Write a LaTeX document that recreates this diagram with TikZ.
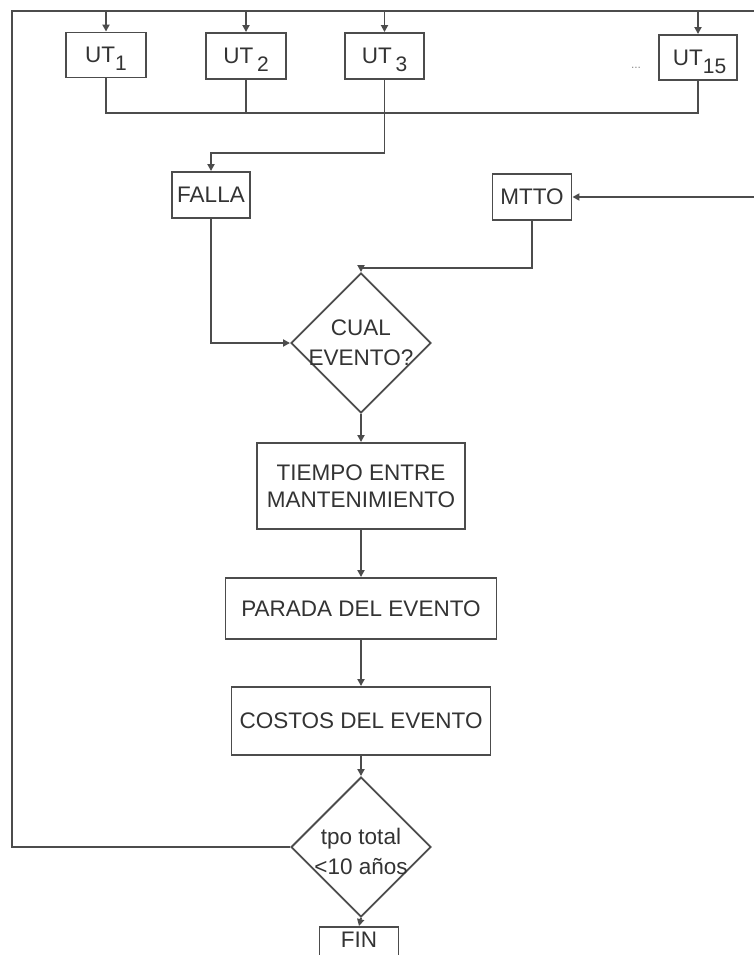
\documentclass[tikz,border=0pt]{standalone}
\usepackage{fontspec}
\setmainfont{Liberation Sans}
\usetikzlibrary{shapes.geometric, arrows.meta}
\newcommand\lowsub[1]{\smash{\raisebox{-8pt}{\fontsize{21}{21}\selectfont #1}}}
\begin{document}
\begin{tikzpicture}[x=1pt,y=-1pt,
  every node/.style={font=\fontsize{22.5}{27}\selectfont, text=black!80},
  line/.style={draw=black!70, line width=1.9pt},
  arr/.style={line, -{Triangle[length=7pt,width=7pt]}},
  box/.style={draw=black!70, line width=1.9pt, rectangle, inner sep=0pt, align=center},
  dia/.style={draw=black!70, line width=1.9pt, diamond, inner sep=0pt, minimum width=140pt, minimum height=140pt},
  dtext/.style={align=center, inner sep=0pt},
]
\useasboundingbox (0,0) rectangle (754,955);
\clip (0,0) rectangle (754,955);

% boxes
\node[box, minimum width=80pt, minimum height=45pt] (ut1) at (106,55) {UT\lowsub{1}};
\node[box, minimum width=80pt, minimum height=46pt] (ut2) at (246,56) {UT\,\lowsub{2}};
\node[box, minimum width=79pt, minimum height=46pt] (ut3) at (384.5,56) {UT\,\lowsub{3}};
\node[box, minimum width=78pt, minimum height=45pt] (ut15) at (698,57.5) {\hspace*{3pt}UT\lowsub{15}};
\node[text=black!45, inner sep=0pt] (dots) at (636,68) {\fontsize{12}{12}\selectfont ...};

\node[box, minimum width=78pt, minimum height=46pt] (falla) at (211,195) {FALLA};
\node[box, minimum width=79pt, minimum height=46pt] (mtto) at (532,197) {MTTO};

\node[dia] (d1) at (361,343) {};
\node[dtext, font=\fontsize{22.5}{30}\selectfont] (d1t) at (361,343) {CUAL\\EVENTO?};

\node[box, minimum width=208pt, minimum height=86pt] (tiempo) at (361,486) {TIEMPO ENTRE\\MANTENIMIENTO};
\node[box, minimum width=271pt, minimum height=61pt] (parada) at (361,608.5) {PARADA DEL EVENTO};
\node[box, minimum width=259pt, minimum height=68pt] (costos) at (361,721) {COSTOS DEL EVENTO};

\node[dia] (d2) at (361,847) {};
\node[dtext, font=\fontsize{22.5}{30}\selectfont] (d2t) at (361,851) {tpo total\\\makebox[0pt]{<10 años}};

\node[box, minimum width=79pt, minimum height=44pt] (fin) at (359,949) {};
\node[inner sep=0pt] (fint) at (359,940) {FIN};

% coordinates
\coordinate (tl) at (12,11);
\coordinate (tr) at (754,11);
\coordinate (rm) at (754,197);
\coordinate (bus) at (0,113);
\coordinate (j3) at (0,153);
\coordinate (jm) at (0,268);

% connectors
\draw[line] (d2.west) -| (tl) -- (tr);
\foreach \n in {ut1,ut2,ut3,ut15} \draw[arr] (\n.north |- tl) -- (\n.north);
\draw[line] (ut1.south) |- (ut15.south |- bus) -- (ut15.south);
\draw[line] (ut2.south) -- (ut2.south |- bus);
\draw[arr] (ut3.south) -- (ut3.south |- j3) -| (falla.north);
\draw[arr] (rm) -- (mtto.east);
\draw[arr] (mtto.south) -- (mtto.south |- jm) -| (d1.north);
\draw[arr] (falla.south) |- (d1.west);
\draw[arr] (d1.south) -- (tiempo.north);
\draw[arr] (tiempo.south) -- (parada.north);
\draw[arr] (parada.south) -- (costos.north);
\draw[arr] (costos.south) -- (d2.north);
\draw[arr] (d2.south) -- (fin.north);
\end{tikzpicture}
\end{document}
